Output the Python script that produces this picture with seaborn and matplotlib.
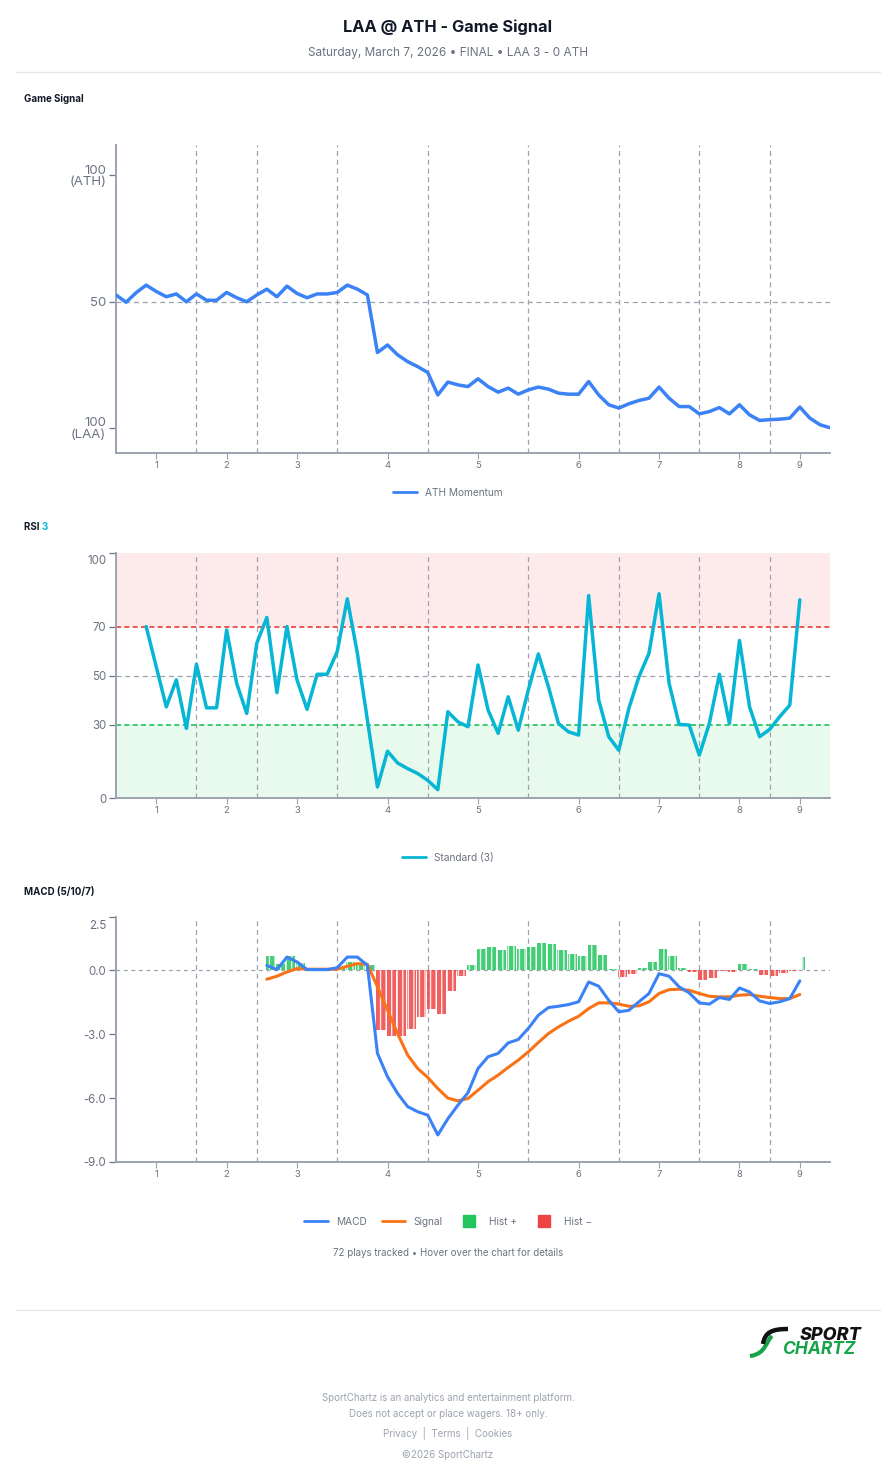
import numpy as np
import pandas as pd
import matplotlib
matplotlib.use("Agg")
import matplotlib.pyplot as plt
import matplotlib.transforms as mtransforms
import seaborn as sns
from matplotlib.lines import Line2D
from matplotlib.path import Path
from matplotlib.patches import PathPatch

# ---------------- data ----------------
inning_labels = ["1", "2", "3", "4", "5", "6", "7", "8", "9"]
inning_centers = [4, 11, 18, 27, 36, 46, 54, 62, 68]
inning_breaks = [8, 14, 22, 31, 41, 50, 58, 65]

momentum = [52.6, 49.7, 53.5, 56.5, 54.0, 51.9, 53.0, 49.9, 53.0, 50.5,
            50.5, 53.6, 51.5, 49.9, 52.6, 54.9, 51.9, 56.1, 53.2, 51.5,
            53.0, 53.0, 53.6, 56.5, 54.9, 52.6, 29.8, 32.8, 28.9, 26.2,
            24.2, 21.9, 13.0, 18.1, 17.0, 16.3, 19.4, 16.3, 14.1, 15.7,
            13.3, 15.0, 16.1, 15.3, 13.7, 13.3, 13.3, 18.3, 13.0, 9.1,
            7.8, 9.5, 10.8, 11.7, 16.1, 11.7, 8.4, 8.4, 5.5, 6.4,
            8.0, 5.5, 9.1, 5.1, 2.9, 3.2, 3.4, 3.8, 8.2, 3.8,
            1.2, 0.0]

rsi_start = 3
rsi = [70.0, 53.6, 37.2, 48.2, 28.4, 54.6, 36.8, 36.8, 68.6, 46.8,
       34.5, 63.2, 73.7, 43.0, 70.0, 48.2, 36.2, 50.5, 50.5, 59.8,
       81.3, 59.1, 31.8, 4.5, 19.1, 14.3, 12.0, 10.0, 7.2, 3.4,
       35.2, 31.1, 29.1, 54.3, 35.9, 26.4, 41.3, 27.7, 44.1, 58.8,
       45.4, 30.4, 27.0, 25.7, 82.6, 40.0, 25.0, 19.5, 36.6, 49.5,
       59.1, 83.4, 46.8, 30.0, 29.8, 17.5, 30.4, 50.5, 30.4, 64.3,
       37.2, 25.0, 28.0, 33.2, 37.9, 80.9]

macd_start = 15
macd = [0.23, 0.03, 0.62, 0.39, 0.03, 0.03, 0.03, 0.12, 0.62, 0.62,
        0.23, -3.9, -5.0, -5.78, -6.4, -6.64, -6.8, -7.73, -6.97, -6.33,
        -5.75, -4.61, -4.06, -3.9, -3.41, -3.25, -2.73, -2.11, -1.75, -1.69,
        -1.61, -1.48, -0.55, -0.75, -1.41, -1.95, -1.88, -1.48, -1.09, -0.16,
        -0.28, -0.78, -1.06, -1.53, -1.59, -1.28, -1.37, -0.83, -1.02, -1.44,
        -1.56, -1.48, -1.33, -0.5]
signal = [-0.42, -0.28, -0.08, 0.08, 0.05, 0.05, 0.05, 0.05, 0.19, 0.31,
          0.28, -0.78, -1.88, -2.97, -3.98, -4.61, -5.03, -5.55, -6.0, -6.13,
          -6.02, -5.63, -5.23, -4.92, -4.56, -4.22, -3.83, -3.39, -2.97, -2.66,
          -2.39, -2.16, -1.8, -1.53, -1.53, -1.59, -1.69, -1.67, -1.48, -1.09,
          -0.91, -0.89, -0.94, -1.09, -1.22, -1.25, -1.25, -1.17, -1.14, -1.22,
          -1.28, -1.33, -1.33, -1.14]
hist = [0.66, 0.31, 0.66, 0.34, 0.02, 0.02, 0.02, 0.12, 0.39, 0.31,
        0.25, -2.81, -3.08, -3.08, -2.77, -2.19, -1.8, -2.03, -0.98, -0.28,
        0.23, 1.02, 1.09, 0.97, 1.13, 0.98, 1.09, 1.3, 1.22, 0.97,
        0.78, 0.66, 1.17, 0.7, 0.06, -0.31, -0.19, 0.09, 0.38, 1.0,
        0.66, 0.09, -0.09, -0.44, -0.38, -0.03, -0.09, 0.31, 0.08, -0.23,
        -0.27, -0.12, -0.02, 0.63]

# ---------------- style ----------------
sns.set_theme(style="white")
plt.rcParams['font.family'] = ['Inter', 'DejaVu Sans']

BLUE = "#3b82f6"
CYAN = "#06b6d4"
ORANGE = "#f97316"
GREEN = "#22c55e"
RED = "#ef4444"
AXIS = "#9ca3af"
TICK = "#6b7280"
GRID = "#9ca3af"

W, H = 896, 1480
fig = plt.figure(figsize=(W / 100, H / 100), dpi=100)
fig.patch.set_facecolor("white")


def fx(px):
    return px / W


def fy(py):
    return 1 - py / H


def make_ax(top, bottom, ysize):
    ax = fig.add_axes([fx(116), fy(bottom), fx(830) - fx(116), fy(top) - fy(bottom)])
    ax.set_facecolor("white")
    for s in ["top", "right"]:
        ax.spines[s].set_visible(False)
    for s in ["left", "bottom"]:
        ax.spines[s].set_color(AXIS)
        ax.spines[s].set_linewidth(1.4)
    ax.set_xlim(0, 71)
    ax.set_xticks(inning_centers)
    ax.set_xticklabels(inning_labels)
    ax.tick_params(axis="x", length=4, width=0.8, color=AXIS, labelsize=6.8,
                   labelcolor=TICK, pad=2, bottom=True)
    ax.tick_params(axis="y", length=5, width=0.9, color=TICK, labelsize=ysize,
                   labelcolor=TICK, pad=2, left=True)
    for b in inning_breaks:
        ax.axvline(b, color=GRID, lw=0.9, ls=(0, (4, 3)), zorder=1)
    return ax


def drop_top_label(ax, px):
    lab = ax.get_yticklabels()[-1]
    lab.set_transform(lab.get_transform() +
                      mtransforms.ScaledTranslation(0, -px / 100, fig.dpi_scale_trans))


# ---------------- panel 1: game signal ----------------
ax1 = make_ax(145, 453, 9.5)
df1 = pd.DataFrame({"play": np.arange(len(momentum)), "value": momentum})
ax1.axhline(50, color=GRID, lw=0.9, ls=(0, (4, 3)), zorder=1)
sns.lineplot(data=df1, x="play", y="value", ax=ax1, color=BLUE, lw=2.5, zorder=3)
ax1.set_ylim(-10, 112)
ax1.set_yticks([0, 50, 100])
ax1.set_yticklabels(["100\n(LAA)", "50", "100\n(ATH)"], linespacing=0.95)
ax1.set_xlabel("")
ax1.set_ylabel("")

# ---------------- panel 2: RSI ----------------
ax2 = make_ax(553, 798, 8.3)
ax2.axhspan(70, 100, color=RED, alpha=0.1, lw=0, zorder=0)
ax2.axhspan(0, 30, color=GREEN, alpha=0.1, lw=0, zorder=0)
ax2.axhline(70, color="#f03a3a", lw=1.2, ls=(0, (3, 2)), zorder=1)
ax2.axhline(30, color="#1fc25a", lw=1.2, ls=(0, (3, 2)), zorder=1)
ax2.axhline(50, color=GRID, lw=0.9, ls=(0, (4, 3)), zorder=1)
df2 = pd.DataFrame({"play": np.arange(rsi_start, rsi_start + len(rsi)), "value": rsi})
sns.lineplot(data=df2, x="play", y="value", ax=ax2, color=CYAN, lw=2.5, zorder=3)
ax2.set_ylim(0, 100)
ax2.set_yticks([0, 30, 50, 70, 100])
ax2.set_yticklabels(["0", "30", "50", "70", "100"])
ax2.set_xlabel("")
ax2.set_ylabel("")
drop_top_label(ax2, 7)

# ---------------- panel 3: MACD ----------------
ax3 = make_ax(917, 1162, 8.3)
ax3.axhline(0, color=GRID, lw=0.9, ls=(0, (3, 3)), zorder=1)
px3 = np.arange(macd_start, macd_start + len(macd))
hv = np.array(hist)
widths = np.full(len(hv), 0.9)
widths[-1] = 0.25
ax3.bar(px3 + 0.35, hv, width=widths, color=np.where(hv >= 0, GREEN, RED),
        alpha=0.85, edgecolor=(1, 1, 1, 0.45), linewidth=0, hatch="|||", zorder=2)
df3 = pd.DataFrame({"play": px3, "MACD": macd, "Signal": signal})
sns.lineplot(data=df3, x="play", y="MACD", ax=ax3, color=BLUE, lw=2.2, zorder=4)
sns.lineplot(data=df3, x="play", y="Signal", ax=ax3, color=ORANGE, lw=2.2, zorder=3)
ax3.set_ylim(-9, 2.5)
ax3.set_yticks([-9, -6, -3, 0, 2.5])
ax3.set_yticklabels(["-9.0", "-6.0", "-3.0", "0.0", "2.5"])
ax3.set_xlabel("")
ax3.set_ylabel("")
drop_top_label(ax3, 7)

# ---------------- legends ----------------
leg_kw = dict(loc="center", frameon=False, fontsize=7.3, labelcolor=TICK,
              handlelength=2.3, handletextpad=0.8, columnspacing=1.5)
fig.legend(handles=[Line2D([], [], color=BLUE, lw=2)], labels=["ATH Momentum"],
           bbox_to_anchor=(0.5, fy(493)), **leg_kw)
fig.legend(handles=[Line2D([], [], color=CYAN, lw=2)], labels=["Standard (3)"],
           bbox_to_anchor=(0.5, fy(858)), **leg_kw)
fig.legend(handles=[Line2D([], [], color=BLUE, lw=2),
                    Line2D([], [], color=ORANGE, lw=2),
                    Line2D([], [], color=GREEN, marker="s", ls="none", markersize=9),
                    Line2D([], [], color=RED, marker="s", ls="none", markersize=9)],
           labels=["MACD", "Signal", "Hist +", "Hist \u2212"], ncol=4,
           bbox_to_anchor=(0.5, fy(1222)), **leg_kw)

# ---------------- texts ----------------
fig.text(0.5, fy(27), "LAA @ ATH - Game Signal", ha="center", va="center",
         fontsize=11.8, fontweight="bold", color="#111827")
fig.text(0.5, fy(53), "Saturday, March 7, 2026 \u2022 FINAL \u2022 LAA 3 - 0 ATH",
         ha="center", va="center", fontsize=8.5, color="#6b7280")
fig.add_artist(Line2D([fx(16), fx(880)], [fy(72), fy(72)], color="#e5e7eb", lw=1))
fig.add_artist(Line2D([fx(16), fx(880)], [fy(1310), fy(1310)], color="#e5e7eb", lw=1))

fig.text(fx(24), fy(99), "Game Signal", ha="left", va="center", fontsize=7,
         fontweight="bold", color="#111827")
t = fig.text(fx(24), fy(527), "RSI ", ha="left", va="center", fontsize=7,
             fontweight="bold", color="#111827")
fig.canvas.draw()
bb = t.get_window_extent()
fig.text(bb.x1 / W, fy(527), "3", ha="left", va="center", fontsize=7,
         fontweight="bold", color=CYAN)
fig.text(fx(24), fy(892), "MACD (5/10/7)", ha="left", va="center", fontsize=7,
         fontweight="bold", color="#111827")

fig.text(0.5, fy(1253), "72 plays tracked \u2022 Hover over the chart for details",
         ha="center", va="center", fontsize=7, color="#6b7280")

# logo
fig.text(fx(862), fy(1335), "SPORT", ha="right", va="center", fontsize=13,
         fontweight="heavy", style="italic", color="#111111")
fig.text(fx(855), fy(1350), "CHARTZ", ha="right", va="center", fontsize=12.5,
         fontweight="bold", style="italic", color="#16a34a")
fig.add_artist(PathPatch(Path([(fx(750), fy(1356)), (fx(766), fy(1354)),
                               (fx(766), fy(1341)), (fx(772), fy(1336))],
                              [Path.MOVETO, Path.CURVE4, Path.CURVE4, Path.CURVE4]),
                         fill=False, edgecolor="#16a34a", lw=3, transform=fig.transFigure))
fig.add_artist(PathPatch(Path([(fx(763), fy(1344)), (fx(765), fy(1332)),
                               (fx(772), fy(1329)), (fx(788), fy(1329))],
                              [Path.MOVETO, Path.CURVE4, Path.CURVE4, Path.CURVE4]),
                         fill=False, edgecolor="#111111", lw=3.2, transform=fig.transFigure))

foot = "#9ca3af"
fig.text(0.5, fy(1398), "SportChartz is an analytics and entertainment platform.",
         ha="center", va="center", fontsize=7, color=foot)
fig.text(0.5, fy(1414), "Does not accept or place wagers. 18+ only.",
         ha="center", va="center", fontsize=7, color=foot)
fig.text(0.5, fy(1434), "Privacy  |  Terms  |  Cookies",
         ha="center", va="center", fontsize=7, color=foot)
fig.text(0.5, fy(1455), "\u00a92026 SportChartz",
         ha="center", va="center", fontsize=7, color=foot)

fig.savefig("out.png", dpi=100, facecolor="white")
